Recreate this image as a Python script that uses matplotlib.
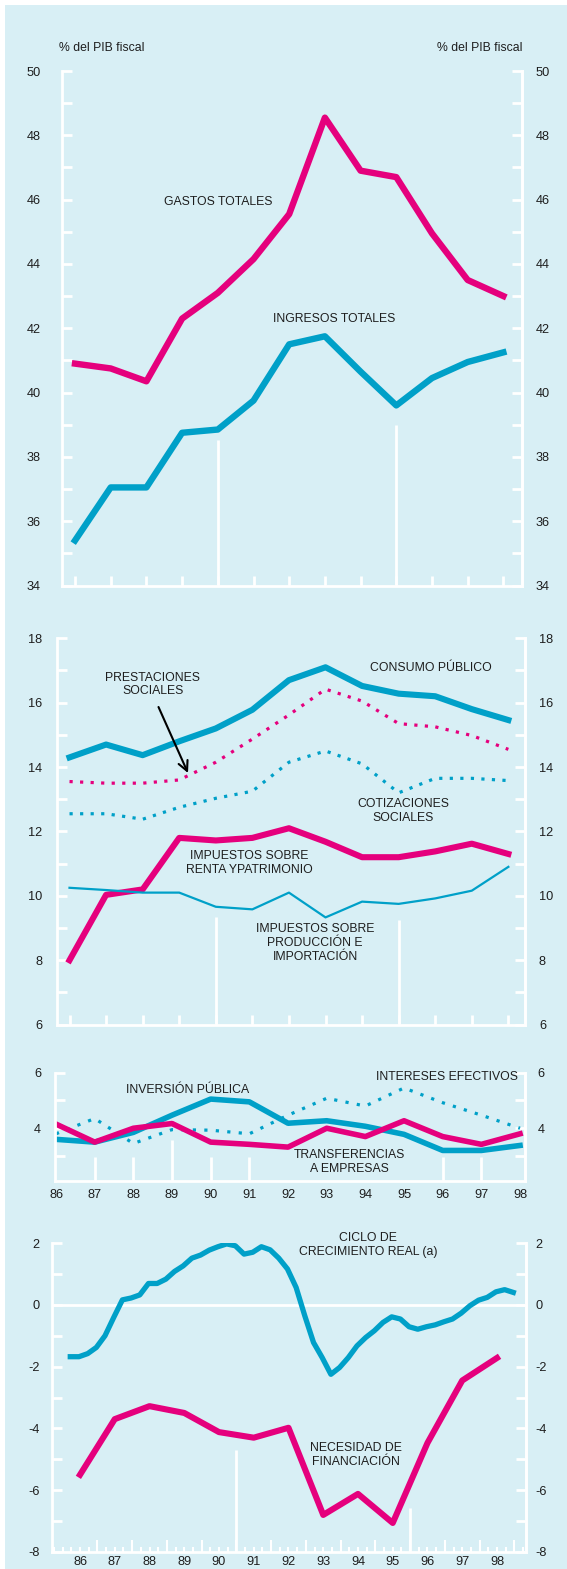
import matplotlib
matplotlib.use('Agg')
import matplotlib.pyplot as plt
import numpy as np
from matplotlib.patches import Rectangle
from matplotlib.ticker import FixedLocator

# ---------------- data ----------------
years = [86, 87, 88, 89, 90, 91, 92, 93, 94, 95, 96, 97, 98]
year_labels = ['86', '87', '88', '89', '90', '91', '92', '93', '94', '95', '96', '97', '98']

gastos_totales = [40.9, 40.75, 40.35, 42.3, 43.1, 44.15, 45.55, 48.55, 46.9, 46.7, 44.95, 43.5, 43.0]
ingresos_totales = [35.4, 37.05, 37.05, 38.75, 38.85, 39.75, 41.5, 41.75, 40.65, 39.6, 40.45, 40.95, 41.25]

consumo_publico = [14.3, 14.7, 14.37, 14.8, 15.2, 15.78, 16.7, 17.1, 16.52, 16.28, 16.2, 15.8, 15.46]
prestaciones_sociales = [13.55, 13.5, 13.5, 13.6, 14.15, 14.87, 15.62, 16.42, 16.05, 15.35, 15.25, 14.98, 14.55]
cotizaciones_sociales = [12.55, 12.55, 12.38, 12.75, 13.03, 13.25, 14.15, 14.5, 14.1, 13.2, 13.65, 13.65, 13.58]
imp_renta = [8.0, 10.03, 10.2, 11.8, 11.72, 11.8, 12.1, 11.68, 11.2, 11.2, 11.38, 11.62, 11.3]
imp_produccion = [10.25, 10.18, 10.1, 10.1, 9.66, 9.58, 10.1, 9.33, 9.82, 9.75, 9.92, 10.16, 10.9]

inversion_publica = [3.6, 3.5, 3.85, 4.47, 5.05, 4.95, 4.18, 4.27, 4.07, 3.78, 3.2, 3.2, 3.38]
transferencias = [4.15, 3.5, 4.0, 4.17, 3.5, 3.42, 3.32, 4.0, 3.7, 4.27, 3.7, 3.42, 3.8]
intereses = [3.8, 4.35, 3.45, 3.95, 3.93, 3.8, 4.47, 5.08, 4.8, 5.45, 4.92, 4.47, 4.0]

# quarterly cycle 86Q1 .. 98Q4
ciclo = [-1.68, -1.68, -1.58, -1.38, -1.0, -0.41, 0.16, 0.22, 0.32, 0.69,
         0.69, 0.83, 1.08, 1.26, 1.51, 1.61, 1.77, 1.88, 1.97, 1.91,
         1.64, 1.70, 1.88, 1.78, 1.51, 1.16, 0.56, -0.36, -1.22, -1.71,
         -2.25, -2.03, -1.71, -1.33, -1.06, -0.84, -0.57, -0.39, -0.46, -0.71,
         -0.79, -0.71, -0.65, -0.55, -0.46, -0.27, -0.03, 0.15, 0.24, 0.42,
         0.49, 0.40]
necesidad = [-5.5, -3.7, -3.28, -3.5, -4.12, -4.3, -3.98, -6.8, -6.12, -7.06, -4.47, -2.45, -1.72]

# y tick values for each panel
p1_major = [34, 36, 38, 40, 42, 44, 46, 48, 50]
p2_major = [6, 8, 10, 12, 14, 16, 18]
p3_major = [4, 6]
p4_major = [-8, -6, -4, -2, 0, 2]

# ---------------- style ----------------
W, H = 567, 1569
BG = '#d8eff5'
PINK = '#e5007d'
BLUE = '#00a0c8'
TXT = '#1e1e1e'
plt.rcParams['font.family'] = ['Liberation Sans', 'DejaVu Sans']
plt.rcParams['axes.unicode_minus'] = False
FS = 8.8     # annotation text
TFS = 9.2    # tick labels

fig = plt.figure(figsize=(W / 100, H / 100), dpi=100)
fig.patch.set_facecolor('white')
fig.patches.append(Rectangle((5 / W, 0), 1, 1 - 5 / H, transform=fig.transFigure,
                             facecolor=BG, edgecolor='none', zorder=-10))


def add_ax(x0, x1, ytop, ybot, xlim, ylim):
    ax = fig.add_axes([x0 / W, 1 - ybot / H, (x1 - x0) / W, (ybot - ytop) / H])
    ax.set_facecolor('none')
    ax.set_xlim(xlim)
    ax.set_ylim(ylim)
    ax.spines['top'].set_visible(False)
    for s in ['left', 'right', 'bottom']:
        ax.spines[s].set_color('white')
        ax.spines[s].set_linewidth(2)
    return ax


def style_y(ax, major, minor, lpad, rpad, ticklen=7):
    ax.yaxis.set_major_locator(FixedLocator(major))
    ax.yaxis.set_minor_locator(FixedLocator(minor))
    ax.tick_params(axis='y', which='both', direction='in', left=True, right=False,
                   labelleft=True, labelright=False, color='white', width=2,
                   length=ticklen, labelsize=TFS, labelcolor=TXT, pad=lpad)
    sec = ax.secondary_yaxis('right')
    sec.yaxis.set_major_locator(FixedLocator(major))
    sec.yaxis.set_minor_locator(FixedLocator(minor))
    sec.tick_params(axis='y', which='both', direction='in', color='white', width=2,
                    length=ticklen, labelsize=TFS, labelcolor=TXT, pad=rpad)
    sec.spines['right'].set_color('white')
    sec.spines['right'].set_linewidth(2)
    return sec


def ftext(x, y, s, **kw):
    fig.text(x / W, 1 - y / H, s, ha='center', va='center', fontsize=FS,
             color=TXT, linespacing=1.2, **kw)


def odd_between(vals):
    return [v + 1 for v in vals[:-1]]


# ---------------- panel 1 ----------------
ax1 = add_ax(61.7, 521.7, 71, 585.5, (85.627, 98.513), (34, 50))
style_y(ax1, p1_major, odd_between(p1_major), 15, 10)
ax1.set_xticks(years)
ax1.tick_params(axis='x', direction='in', color='white', width=2, length=7,
                labelbottom=False)
xt = ax1.get_xaxis_transform()
ax1.vlines([90], 0, 0.283, transform=xt, colors='white', lw=2)
ax1.vlines([95], 0, 0.312, transform=xt, colors='white', lw=2)
ax1.plot(years, gastos_totales, color=PINK, lw=4.6)
ax1.plot(years, ingresos_totales, color=BLUE, lw=4.6)

ftext(102, 48, '% del PIB fiscal')
ftext(480, 48, '% del PIB fiscal')
ftext(218.5, 202, 'GASTOS TOTALES')
ftext(334, 319, 'INGRESOS TOTALES')

# ---------------- panel 2 ----------------
ax2 = add_ax(57.3, 525, 638.3, 1024.6, (85.666, 98.455), (6, 18))
style_y(ax2, p2_major, odd_between(p2_major), 11, 10)
ax2.set_xticks(years)
ax2.tick_params(axis='x', direction='in', color='white', width=2, length=7,
                labelbottom=False)
xt = ax2.get_xaxis_transform()
ax2.vlines([90], 0, 0.279, transform=xt, colors='white', lw=2)
ax2.vlines([95], 0, 0.27, transform=xt, colors='white', lw=2)
ax2.plot(years, consumo_publico, color=BLUE, lw=4.4)
ax2.plot(years, prestaciones_sociales, color=PINK, lw=2.3, linestyle=(0, (1, 2.3)))
ax2.plot(years, cotizaciones_sociales, color=BLUE, lw=2.3, linestyle=(0, (1, 2.3)))
ax2.plot(years, imp_renta, color=PINK, lw=4.4)
ax2.plot(years, imp_produccion, color=BLUE, lw=1.6)

ftext(153, 684.5, 'PRESTACIONES\nSOCIALES')
ftext(431, 668, 'CONSUMO PÚBLICO')
ftext(403, 811, 'COTIZACIONES\nSOCIALES')
ftext(249, 863, 'IMPUESTOS SOBRE\nRENTA YPATRIMONIO')
ftext(315, 943, 'IMPUESTOS SOBRE\nPRODUCCIÓN E\nIMPORTACIÓN')
ax2.annotate('', xy=(188 / W, 1 - 773 / H), xycoords='figure fraction',
             xytext=(158.5 / W, 1 - 707 / H), textcoords='figure fraction',
             arrowprops=dict(arrowstyle='->,head_length=0.7,head_width=0.35',
                             color='black', lw=1.5, shrinkA=0, shrinkB=0))

# ---------------- panel 3 ----------------
ax3 = add_ax(55, 525, 1072.7, 1181, (85.974, 98.128), (2.1, 6))
style_y(ax3, p3_major, [3, 5], 10, 9)
ax3.set_xticks(years)
ax3.set_xticklabels(year_labels)
ax3.tick_params(axis='x', length=0, labelsize=TFS, labelcolor=TXT, pad=6)
xt = ax3.get_xaxis_transform()
ax3.vlines([87, 88, 90, 91, 96, 97], 0, 0.22, transform=xt, colors='white', lw=2)
ax3.vlines([89], 0, 0.38, transform=xt, colors='white', lw=2)
ax3.plot(years, intereses, color=BLUE, lw=2.3, linestyle=(0, (1, 2.6)))
ax3.plot(years, inversion_publica, color=BLUE, lw=4.0)
ax3.plot(years, transferencias, color=PINK, lw=4.0)

ftext(188, 1090, 'INVERSIÓN PÚBLICA')
ftext(446.5, 1077, 'INTERESES EFECTIVOS')
ftext(349.5, 1162, 'TRANSFERENCIAS\nA EMPRESAS')

# ---------------- panel 4 ----------------
ax4 = add_ax(52, 526, 1243, 1552, (85.194, 98.835), (-8, 2))
style_y(ax4, p4_major, odd_between(p4_major), 9, 7)
ax4.set_xticks(years)
ax4.set_xticklabels(year_labels)
ax4.tick_params(axis='x', length=0, labelsize=TFS, labelcolor=TXT, pad=3)
xt = ax4.get_xaxis_transform()
quarter_ticks = np.arange(85.25, 98.8, 0.25)
ax4.vlines(quarter_ticks, 0, 0.017, transform=xt, colors='white', lw=1.5)
ax4.vlines(np.arange(86.5, 98.6, 1.0), 0, 0.04, transform=xt, colors='white', lw=1.5)
ax4.vlines([90.5], 0, 0.33, transform=xt, colors='white', lw=2)
ax4.vlines([95.5], 0, 0.142, transform=xt, colors='white', lw=2)
ax4.axhline(0, color='white', lw=2)
x_quarters = 85.72 + 0.25 * np.arange(len(ciclo))
ax4.plot(x_quarters, ciclo, color=BLUE, lw=3.8)
ax4.plot(years, necesidad, color=PINK, lw=4.4)

ftext(368, 1245, 'CICLO DE\nCRECIMIENTO REAL (a)')
ftext(356, 1455, 'NECESIDAD DE\nFINANCIACIÓN')

fig.savefig('out.png', dpi=100, facecolor=fig.get_facecolor())
